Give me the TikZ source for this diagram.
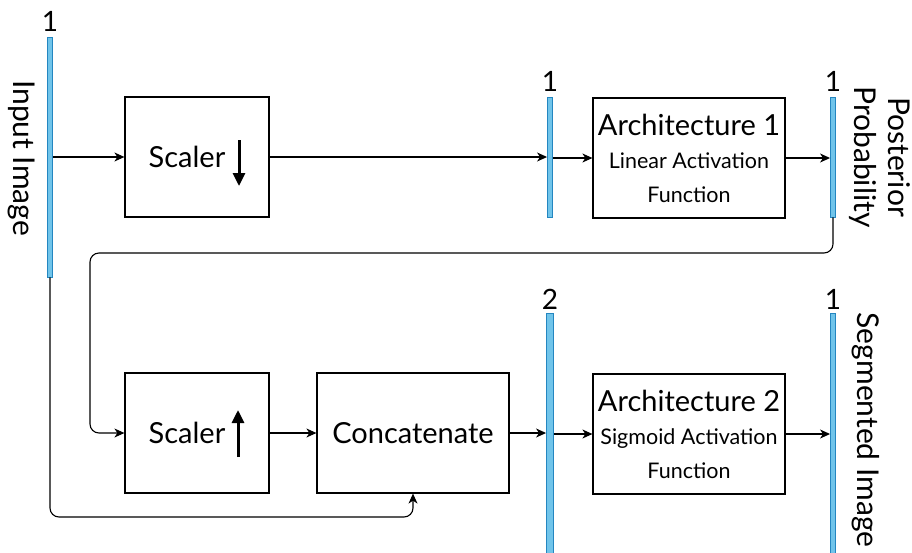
\documentclass[tikz,border=0pt]{standalone}
\usepackage{fontspec}
\setmainfont{Lato}
\usetikzlibrary{arrows.meta,calc}
\definecolor{barfill}{RGB}{112,196,234}
\definecolor{barline}{RGB}{36,134,192}
\newcommand\subtxt{\fontsize{21.5}{34}\selectfont}
\begin{document}
\begin{tikzpicture}[x=1pt,y=-1pt,
  box/.style={draw,line width=1.2pt,minimum width=144pt,minimum height=120pt,inner sep=0pt,
    font=\fontsize{29}{33}\selectfont},
  archbox/.style={box,minimum width=192pt,align=center},
  bar/.style={draw=barline,fill=barfill,line width=0.9pt,minimum width=5pt,inner sep=0pt},
  shortbar/.style={bar,minimum height=120pt},
  longbar/.style={bar,minimum height=240pt},
  widebar/.style={longbar,minimum width=7pt},
  num/.style={font=\fontsize{28}{30}\selectfont,inner sep=0pt},
  side/.style={font=\fontsize{30}{34}\selectfont,rotate=-90,align=center,inner sep=0pt},
  conn/.style={line width=1.1pt,-{Stealth[length=10pt,width=9pt,inset=3pt]}},
  bigarrow/.style={line width=3pt,-{Triangle[length=13pt,width=12pt]}}]
\useasboundingbox (0,0) rectangle (912,552);

% bars
\node[longbar] (b1) at (50,157) {};
\node[shortbar] (b2) at (550,157) {};
\node[shortbar] (b3) at (833,157) {};
\node[widebar] (b4) at (550,433) {};
\node[longbar] (b5) at (833,433) {};

\node[num] (n1) at (50,21) {1};
\node[num] (n2) at (550,81) {1};
\node[num] (n3) at (833,81) {1};
\node[num] (n4) at (550,299) {2};
\node[num] (n5) at (833,299) {1};

% side labels
\node[side] (inlab) at (22,158) {Input Image};
\node[side] (postlab) at (880,157) {Posterior\\Probability};
\node[side] (seglab) at (866,430) {Segmented Image};

% processing blocks
\node[box] (sd) at (197,157) {\hspace*{-20pt}Scaler};
\draw[bigarrow] ($(sd.center)+(42,-17)$) -- ++(0,46);
\node[box] (su) at (197,433) {\hspace*{-20pt}Scaler};
\draw[bigarrow] ($(su.center)+(41,24)$) -- ++(0,-47);
\node[box,minimum width=192pt] (cc) at (413,433) {Concatenate};
\node[archbox] (a1) at (689,158) {Architecture 1\\{\subtxt Linear Activation}\\[1pt]{\subtxt Function}};
\node[archbox] (a2) at (689,434) {Architecture 2\\{\subtxt Sigmoid Activation}\\[1pt]{\subtxt Function}};

% connectors
\draw[conn] (b1.east |- sd.west) -- (sd.west);
\draw[conn] (sd.east) -- (b2.west |- sd.east);
\draw[conn] (b2.east |- a1.west) -- (a1.west);
\draw[conn] (a1.east) -- (b3.west |- a1.east);

\coordinate (loop) at (90,253);
\draw[conn,rounded corners=9pt] (b3.south) |- (loop) |- (su.west);

\draw[conn] (su.east) -- (cc.west);
\draw[conn] (cc.east) -- (b4.west |- cc.east);
\draw[conn] (b4.east |- a2.west) -- (a2.west);
\draw[conn] (a2.east) -- (b5.west |- a2.east);

\coordinate (low) at (413,517);
\draw[conn,rounded corners=9pt] (b1.south) |- (low) -- (cc.south);
\end{tikzpicture}
\end{document}
